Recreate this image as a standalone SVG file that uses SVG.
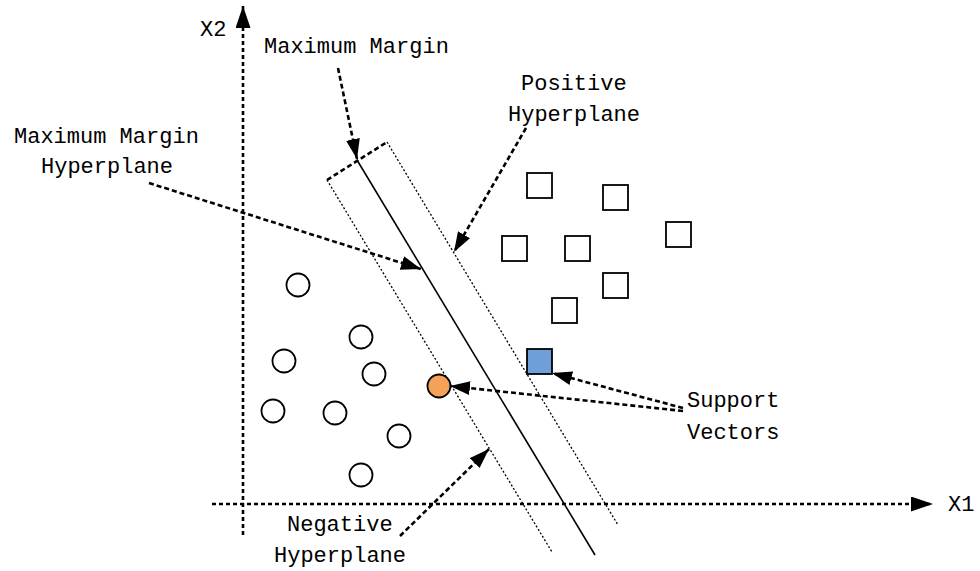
<svg xmlns="http://www.w3.org/2000/svg" width="980" height="571" viewBox="0 0 980 571">
<style>
text{font-family:"Liberation Mono","DejaVu Sans Mono",monospace;font-size:22px;fill:#000}
.axis{stroke:#000;stroke-width:2.6;stroke-dasharray:4 3;fill:none}
.arr{stroke:#000;stroke-width:2.6;stroke-dasharray:5 3;fill:none}
.dot{stroke:#000;stroke-width:1.3;stroke-dasharray:2 2;fill:none}
.sq{fill:#fff;stroke:#000;stroke-width:1.8}
.ci{fill:#fff;stroke:#000;stroke-width:1.8}
</style>
<defs>
<marker id="ah" viewBox="0 0 22 15" refX="22" refY="7.5" markerWidth="22" markerHeight="15" markerUnits="userSpaceOnUse" orient="auto">
<path d="M0,0 L22,7.5 L0,15 z" fill="#000"/>
</marker>
<marker id="ah2" viewBox="0 0 20 14" refX="20" refY="7" markerWidth="20" markerHeight="14" markerUnits="userSpaceOnUse" orient="auto">
<path d="M0,0 L20,7 L0,14 z" fill="#000"/>
</marker>
</defs>
<rect width="980" height="571" fill="#fff"/>
<g id="axes">
<line class="axis" x1="243" y1="535" x2="243" y2="6" marker-end="url(#ah)"/>
<line class="axis" x1="212" y1="504" x2="933" y2="504" marker-end="url(#ah)"/>
<text x="200" y="36">X2</text>
<text x="948" y="511">X1</text>
</g>
<g id="margin-band">
<line x1="357" y1="160" x2="595" y2="555" stroke="#000" stroke-width="1.6"/>
<line class="dot" x1="327" y1="180" x2="552" y2="552"/>
<line class="dot" x1="387" y1="142" x2="618" y2="525"/>
<line class="arr" x1="327" y1="180" x2="387" y2="142"/>
</g>
<g id="squares">
<rect class="sq" x="527" y="173" width="25" height="25"/>
<rect class="sq" x="603" y="185" width="25" height="25"/>
<rect class="sq" x="666" y="222" width="25" height="25"/>
<rect class="sq" x="502" y="236" width="25" height="25"/>
<rect class="sq" x="565" y="236" width="25" height="25"/>
<rect class="sq" x="603" y="273" width="25" height="25"/>
<rect class="sq" x="552" y="298" width="25" height="25"/>
<rect id="support-square" x="527" y="349" width="25" height="25" fill="#6f9fd8" stroke="#000" stroke-width="1.8"/>
</g>
<g id="circles">
<circle class="ci" cx="298" cy="285" r="11.5"/>
<circle class="ci" cx="361" cy="337" r="11.5"/>
<circle class="ci" cx="284" cy="361" r="11.5"/>
<circle class="ci" cx="374" cy="374" r="11.5"/>
<circle class="ci" cx="273" cy="411" r="11.5"/>
<circle class="ci" cx="335" cy="413" r="11.5"/>
<circle class="ci" cx="399" cy="436" r="11.5"/>
<circle class="ci" cx="361" cy="475" r="11.5"/>
<circle id="support-circle" cx="439" cy="386" r="11.5" fill="#f4a25a" stroke="#000" stroke-width="1.8"/>
</g>
<g id="connectors">
<line class="arr" x1="338" y1="68" x2="357" y2="159" marker-end="url(#ah2)"/>
<line class="arr" x1="149" y1="183" x2="421" y2="269" marker-end="url(#ah2)"/>
<line class="arr" x1="526" y1="128" x2="454" y2="252" marker-end="url(#ah2)"/>
<line class="arr" x1="683" y1="408" x2="552" y2="373" marker-end="url(#ah2)"/>
<line class="arr" x1="683" y1="411" x2="450" y2="386" marker-end="url(#ah2)"/>
<line class="arr" x1="400" y1="536" x2="489" y2="449" marker-end="url(#ah2)"/>
</g>
<g id="labels">
<text x="264" y="53">Maximum Margin</text>
<text x="521" y="90">Positive</text>
<text x="508" y="121">Hyperplane</text>
<text x="14" y="143">Maximum Margin</text>
<text x="41" y="173">Hyperplane</text>
<text x="687" y="407">Support</text>
<text x="687" y="439">Vectors</text>
<text x="287" y="531">Negative</text>
<text x="274" y="562">Hyperplane</text>
</g>
</svg>
